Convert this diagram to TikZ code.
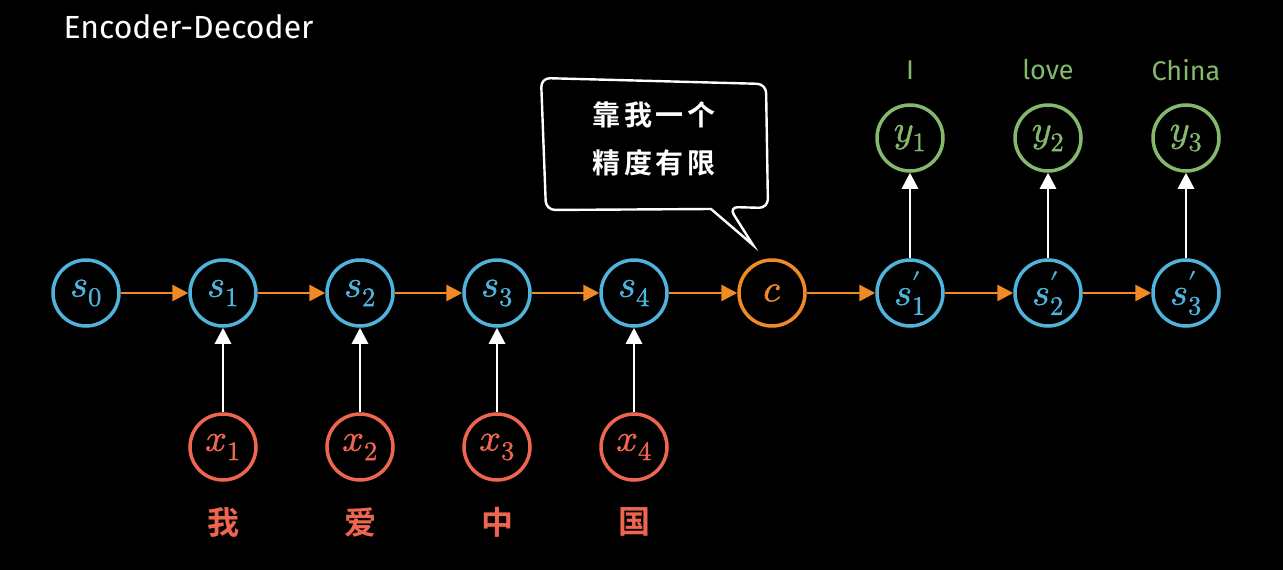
\documentclass[tikz,border=0pt]{standalone}
\usepackage{fontspec}
\usepackage{unicode-math}
\setmainfont{Fira Sans}
\setmathfont{Latin Modern Math}[FakeBold=1.2]
\newfontfamily\cjk{Noto Sans CJK SC}[BoldFont={Noto Sans CJK SC Bold}]
\usetikzlibrary{arrows.meta}
\definecolor{cblue}{HTML}{4FB3DC}
\definecolor{corange}{HTML}{F08A24}
\definecolor{cred}{HTML}{EE6650}
\definecolor{cgreen}{HTML}{84B86C}
\begin{document}
\begin{tikzpicture}[x=1pt,y=-1pt,
  circ/.style={circle,draw,line width=3.5pt,minimum size=66pt,inner sep=0pt,font=\fontsize{38}{40}\selectfont},
  snode/.style={circ,draw=cblue,text=cblue},
  xnode/.style={circ,draw=cred,text=cred},
  ynode/.style={circ,draw=cgreen,text=cgreen},
  cnode/.style={circ,draw=corange,text=corange},
  harr/.style={draw=corange,line width=2.8pt,-{Triangle[length=16pt,width=16pt]}},
  varr/.style={draw=white,line width=2.8pt,-{Triangle[length=16pt,width=16pt]}},
  cnlabel/.style={text=cred,font=\cjk\bfseries\fontsize{32}{36}\selectfont},
  enlabel/.style={text=cgreen,font=\fontsize{27}{30}\selectfont},
]
\fill[black] (0,0) rectangle (1283,570);
\useasboundingbox (0,0) rectangle (1283,570);

\node[anchor=west,text=white,font=\fontsize{32}{34}\selectfont] (title) at (60,27) {Encoder-Decoder};

\node[snode] (s0) at (86,293) {$s_0$};
\node[snode] (s1) at (223,293) {$s_1$};
\node[snode] (s2) at (360,293) {$s_2$};
\node[snode] (s3) at (497,293) {$s_3$};
\node[snode] (s4) at (634,293) {$s_4$};
\node[cnode] (c) at (772,293) {$c$};
\node[snode] (t1) at (910,293) {$s_1^{\prime}$};
\node[snode] (t2) at (1048,293) {$s_2^{\prime}$};
\node[snode] (t3) at (1186,293) {$s_3^{\prime}$};

\node[xnode] (x1) at (223,447) {$x_1$};
\node[xnode] (x2) at (360,447) {$x_2$};
\node[xnode] (x3) at (497,447) {$x_3$};
\node[xnode] (x4) at (634,447) {$x_4$};

\node[ynode] (y1) at (910,138) {$y_1$};
\node[ynode] (y2) at (1048,138) {$y_2$};
\node[ynode] (y3) at (1186,138) {$y_3$};

\node[cnlabel] (w1) at (223,522) {我};
\node[cnlabel] (w2) at (360,522) {爱};
\node[cnlabel] (w3) at (497,522) {中};
\node[cnlabel] (w4) at (634,522) {国};

\node[enlabel] (e1) at (910,70) {I};
\node[enlabel] (e2) at (1048,70) {love};
\node[enlabel] (e3) at (1186,70) {China};

\foreach \a/\b in {s0/s1,s1/s2,s2/s3,s3/s4,s4/c,c/t1,t1/t2,t2/t3}
  \draw[harr] (\a) -- (\b);
\foreach \i in {1,2,3,4}
  \draw[varr] (x\i) -- (s\i);
\foreach \i in {1,2,3}
  \draw[varr] (t\i) -- (y\i);

\draw[white,line width=2.4pt,rounded corners=9pt]
  (541,78) -- (766,84) -- (768,208) -- (729,207) [sharp corners] -- (753,245) -- (711,209) [rounded corners=9pt] -- (546,210) -- cycle;
\node[text=white,font=\cjk\bfseries\fontsize{28}{48}\selectfont\addfontfeature{LetterSpace=14},align=center] (bubble) at (654,139) {靠我一个\\精度有限};
\end{tikzpicture}
\end{document}
